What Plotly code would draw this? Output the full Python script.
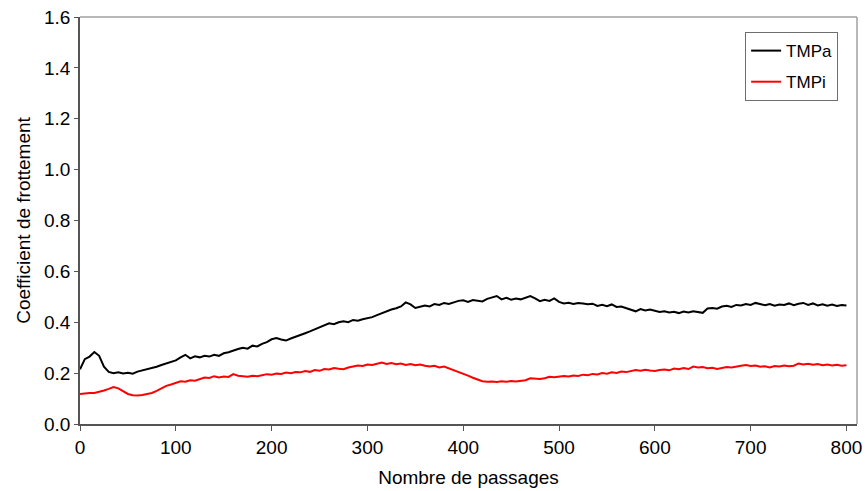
import plotly.graph_objects as go

passages = list(range(0, 801, 5))

tmpa = [0.215, 0.255, 0.265, 0.283, 0.268, 0.225, 0.205, 0.200, 0.203, 0.199,
        0.201, 0.198, 0.206, 0.210, 0.214, 0.220, 0.225, 0.232, 0.238, 0.245,
        0.250, 0.262, 0.272, 0.258, 0.266, 0.262, 0.268, 0.265, 0.272, 0.268,
        0.278, 0.282, 0.290, 0.295, 0.300, 0.296, 0.308, 0.305, 0.315, 0.322,
        0.333, 0.338, 0.332, 0.328, 0.336, 0.342, 0.350, 0.357, 0.364, 0.372,
        0.380, 0.388, 0.396, 0.392, 0.400, 0.404, 0.400, 0.409, 0.406, 0.412,
        0.415, 0.420, 0.428, 0.436, 0.441, 0.450, 0.455, 0.462, 0.478, 0.470,
        0.456, 0.462, 0.466, 0.462, 0.472, 0.468, 0.476, 0.472, 0.478, 0.484,
        0.486, 0.480, 0.487, 0.484, 0.482, 0.492, 0.498, 0.503, 0.490, 0.496,
        0.489, 0.493, 0.490, 0.496, 0.503, 0.494, 0.483, 0.488, 0.484, 0.494,
        0.480, 0.474, 0.477, 0.472, 0.476, 0.474, 0.471, 0.473, 0.464, 0.469,
        0.463, 0.470, 0.460, 0.462, 0.456, 0.449, 0.443, 0.452, 0.446, 0.450,
        0.444, 0.440, 0.443, 0.438, 0.441, 0.436, 0.442, 0.438, 0.443, 0.440,
        0.437, 0.454, 0.456, 0.453, 0.462, 0.465, 0.460, 0.468, 0.466, 0.472,
        0.468, 0.476, 0.470, 0.467, 0.472, 0.465, 0.470, 0.468, 0.474, 0.467,
        0.473, 0.476, 0.468, 0.474, 0.466, 0.471, 0.465, 0.470, 0.464, 0.468,
        0.466]

tmpi = [0.118, 0.121, 0.122, 0.122, 0.126, 0.132, 0.138, 0.145, 0.140, 0.128,
        0.118, 0.113, 0.112, 0.114, 0.118, 0.122, 0.130, 0.140, 0.150, 0.155,
        0.162, 0.168, 0.166, 0.172, 0.170, 0.178, 0.183, 0.181, 0.188, 0.183,
        0.187, 0.185, 0.196, 0.190, 0.188, 0.186, 0.190, 0.188, 0.192, 0.196,
        0.194, 0.198, 0.197, 0.202, 0.200, 0.204, 0.203, 0.208, 0.205, 0.212,
        0.209, 0.216, 0.214, 0.220, 0.217, 0.215, 0.222, 0.226, 0.230, 0.228,
        0.234, 0.232, 0.238, 0.242, 0.236, 0.240, 0.235, 0.238, 0.232, 0.236,
        0.231, 0.234, 0.229, 0.226, 0.229, 0.222, 0.226, 0.219, 0.212, 0.207,
        0.198, 0.190, 0.182, 0.174, 0.168, 0.166, 0.167, 0.165, 0.168, 0.166,
        0.169, 0.167, 0.170, 0.172, 0.180, 0.178, 0.177, 0.180, 0.186, 0.184,
        0.186, 0.189, 0.187, 0.191, 0.189, 0.194, 0.192, 0.197, 0.195, 0.200,
        0.198, 0.203, 0.201, 0.206, 0.204, 0.209, 0.212, 0.209, 0.213, 0.210,
        0.208, 0.212, 0.214, 0.211, 0.218, 0.215, 0.220, 0.216, 0.226, 0.222,
        0.224, 0.219, 0.221, 0.216, 0.220, 0.224, 0.222, 0.227, 0.229, 0.232,
        0.228, 0.230, 0.225, 0.227, 0.222, 0.228, 0.226, 0.230, 0.227, 0.229,
        0.238, 0.234, 0.237, 0.233, 0.236, 0.231, 0.234, 0.230, 0.233, 0.229,
        0.231]

x_ticks = [0, 100, 200, 300, 400, 500, 600, 700, 800]
y_ticks = [0.0, 0.2, 0.4, 0.6, 0.8, 1.0, 1.2, 1.4, 1.6]

FONT = "Liberation Sans, Arial, sans-serif"

fig = go.Figure()
fig.add_trace(go.Scatter(x=passages, y=tmpa, mode="lines", name="TMPa",
                         legendgroup="a",
                         line=dict(color="#000000", width=2)))
fig.add_trace(go.Scatter(x=passages, y=tmpi, mode="lines", name="TMPi",
                         legendgroup="b",
                         line=dict(color="#ff0000", width=2)))

fig.update_layout(
    width=868, height=491,
    margin=dict(l=80, r=11, t=17, b=67),
    paper_bgcolor="white", plot_bgcolor="white",
    font=dict(family=FONT, size=18, color="#000000"),
    showlegend=True,
    legend=dict(x=0.856, y=0.963, xanchor="left", yanchor="top",
                bordercolor="#6e6e6e", borderwidth=1, bgcolor="white",
                font=dict(family=FONT, size=17, color="#000000"),
                itemwidth=30, tracegroupgap=6, traceorder="grouped"),
    xaxis=dict(range=[0, 811], tickvals=x_ticks, ticks="outside", ticklen=5,
               tickcolor="#555555", showline=True, linecolor="#555555",
               linewidth=1.5, showgrid=False, zeroline=False,
               automargin=False, tickfont=dict(size=19),
               title=dict(text="Nombre de passages", font=dict(size=19),
                          standoff=14)),
    yaxis=dict(range=[0, 1.6], tickvals=y_ticks, tickformat=".1f",
               ticks="outside", ticklen=4, tickcolor="#555555",
               showline=True, linecolor="#555555", linewidth=1.5,
               showgrid=False, zeroline=False, automargin=False,
               tickfont=dict(size=19),
               title=dict(text="Coefficient de frottement", font=dict(size=19),
                          standoff=8)),
    shapes=[
        dict(type="line", xref="paper", yref="paper", x0=0, x1=1, y0=1, y1=1,
             line=dict(color="#a0a0a0", width=1.5)),
        dict(type="line", xref="paper", yref="paper", x0=1, x1=1, y0=0, y1=1,
             line=dict(color="#a0a0a0", width=1.5)),
    ],
)

fig.write_html(
    "out.html",
    config={"displayModeBar": False},
    post_script="document.body.style.margin='0';document.body.style.overflow='hidden';",
)
